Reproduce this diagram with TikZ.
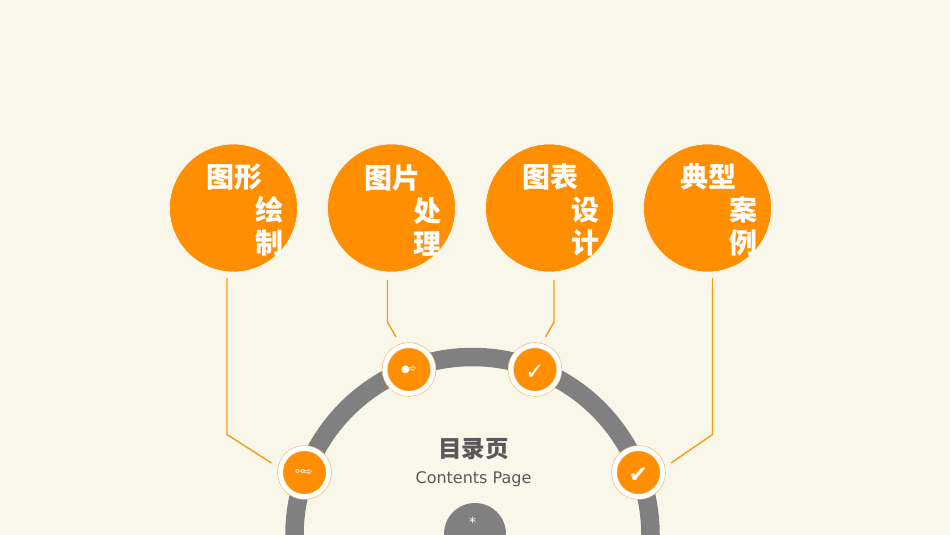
\documentclass[tikz,border=0pt]{standalone}
\usepackage{fontspec}
\setmainfont{DejaVu Sans}
\newfontfamily\cjk{Noto Sans CJK SC}
\definecolor{pagebg}{HTML}{F9F7EA}
\definecolor{mainorange}{HTML}{FF8F00}
\definecolor{ringline}{HTML}{F5B468}
\definecolor{wiregold}{HTML}{F0A010}
\definecolor{archgray}{HTML}{808080}
\definecolor{titlegray}{HTML}{595959}
\tikzset{
  topic/.style={circle, fill=mainorange, draw=white, line width=.6pt, minimum size=128pt, inner sep=0pt},
  topictext/.style={text=white, align=left, inner sep=0pt, font=\cjk\bfseries\fontsize{28}{33}\selectfont},
  badge/.style={circle, fill=mainorange, draw=ringline, double=white, double distance=4.8pt, line width=.6pt,
    minimum size=48.4pt, inner sep=0pt, text=white},
  wire/.style={draw=wiregold, line width=1.4pt},
}
\begin{document}
\begin{tikzpicture}[x=1pt,y=-1pt]
    \fill[pagebg] (0,0) rectangle (950,535);
    \useasboundingbox (0,0) rectangle (950,535);
    \clip (0,0) rectangle (950,535);
    \coordinate (O) at (472.5,535);
    \draw[archgray, line width=18.5pt] (O) circle[radius=178];
    \fill[archgray] (475,534) circle[radius=31];
    \node[text=white, font=\fontsize{14}{14}\selectfont] (star) at (472.5,522) {*};
    % topics
    \node[topic] (t1) at (233.5,208) {};
    \node[topic] (t2) at (391.5,208) {};
    \node[topic] (t3) at (549.5,208) {};
    \node[topic] (t4) at (707.5,208) {};
    \node[topictext] (l1) at (245,210) {图形\\\hspace{49.5pt}绘\\\hspace{49.5pt}制};
    \node[topictext] (l2) at (403,210) {图片\\\hspace{49.5pt}处\\\hspace{49.5pt}理};
    \node[topictext] (l3) at (561,210) {图表\\\hspace{49.5pt}设\\\hspace{49.5pt}计};
    \node[topictext] (l4) at (719,210) {典型\\\hspace{49.5pt}案\\\hspace{49.5pt}例};
    % badges on the arch
    \node[badge, font=\bfseries\fontsize{11}{11}\selectfont] (b1) at (304.5,472.5) {\kern-1pt⚯\kern-1.5pt➾};
    \node[badge, font=\bfseries\fontsize{12}{12}\selectfont] (b2) at (409,369.5) {{\fontsize{10}{10}\selectfont ●}\kern-3pt➾};
    \node[badge, font=\fontsize{23}{23}\selectfont, text height=19pt] (b3) at (535,369.5) {✓};
    \node[badge, font=\fontsize{23}{23}\selectfont, text height=19pt] (b4) at (638.5,472.5) {✔};
    % wires
    \coordinate (w1a) at (227,278);
    \coordinate (w1b) at (227,434.5);
    \coordinate (w1c) at (271.5,463);
    \coordinate (w2a) at (387.5,280);
    \coordinate (w2b) at (387.5,322);
    \coordinate (w2c) at (396,337);
    \coordinate (w3a) at (554,280);
    \coordinate (w3b) at (554,322);
    \coordinate (w3c) at (545.5,337);
    \coordinate (w4a) at (712.5,278);
    \coordinate (w4b) at (712.5,434.5);
    \coordinate (w4c) at (671,463);
    \draw[wire] (w1a) -- (w1b) -- (w1c);
    \draw[wire] (w2a) -- (w2b) -- (w2c);
    \draw[wire] (w3a) -- (w3b) -- (w3c);
    \draw[wire] (w4a) -- (w4b) -- (w4c);
    % title
    \node[text=titlegray, font=\cjk\bfseries\fontsize{23.5}{23.5}\selectfont] (title) at (473.5,449) {目录页};
    \node[text=titlegray, font=\fontsize{16}{17}\selectfont] (subtitle) at (473.5,479.5) {Contents Page};
  \end{tikzpicture}
\end{document}
